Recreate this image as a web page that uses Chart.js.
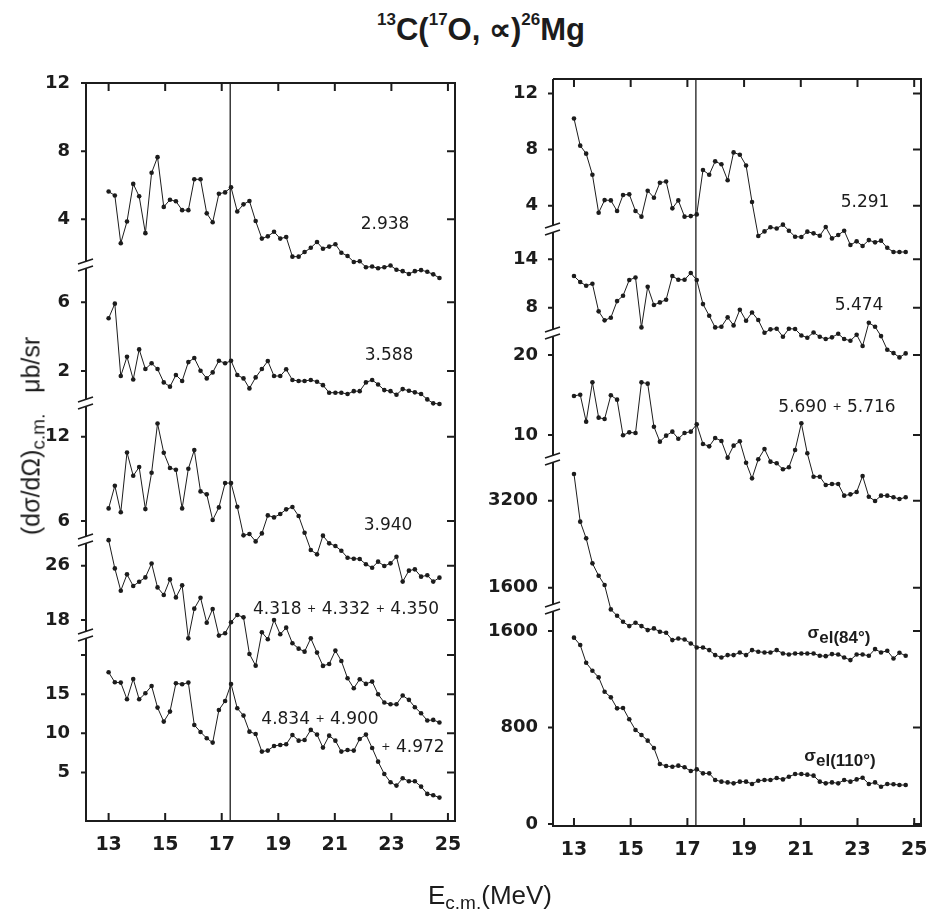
<!DOCTYPE html>
<html>
<head>
<meta charset="utf-8">
<script src="https://cdn.jsdelivr.net/npm/chart.js@4.4.1/dist/chart.umd.min.js"></script>
<style>
  body { margin:0; background:#fff; width:933px; height:923px; position:relative; overflow:hidden; color:#1c1c1c; }
  canvas { position:absolute; top:0; }
  .t { position:absolute; white-space:nowrap; line-height:1; }
  .lbl { position:absolute; transform:translate(-50%,-50%); white-space:nowrap; font:17px "DejaVu Sans", sans-serif; line-height:1; color:#1c1c1c; }
  .lbl .pl { font-size:11px; vertical-align:2px; }
  .sig { font:bold 17px "Liberation Sans", sans-serif; }
  .sig .s { font-size:17px; vertical-align:5px; }
  #title sup { font-size:17px; vertical-align:15px; line-height:0; }
</style>
</head>
<body>
<div id="title" class="t" style="left:481px; top:11px; transform:translateX(-50%); font:bold 31px 'Liberation Sans', sans-serif;"><sup>13</sup>C(<sup>17</sup>O, &#8733;)<sup>26</sup>Mg</div>
<canvas id="left" width="470" height="900" style="left:0"></canvas>
<canvas id="right" width="463" height="900" style="left:470px"></canvas>

<div class="t" style="left:490px; top:880px; transform:translateX(-50%); font:26px 'Liberation Sans', sans-serif;">E<sub style="font-size:19px; vertical-align:-5px;">c.m.</sub>(MeV)</div>
<div class="t" style="left:33px; top:436px; transform:translate(-50%,-50%) rotate(-90deg); font:25px 'Liberation Sans', sans-serif;">(d&sigma;/d&Omega;)<sub style="font-size:19px; vertical-align:-5px;">c.m.</sub>&nbsp;&nbsp;&nbsp;&mu;b/sr</div>

<div class="lbl" style="left:385px; top:223px;">2.938</div>
<div class="lbl" style="left:389px; top:354px;">3.588</div>
<div class="lbl" style="left:388px; top:524px;">3.940</div>
<div class="lbl" style="left:346px; top:608px;">4.318 <span class="pl">+</span> 4.332 <span class="pl">+</span> 4.350</div>
<div class="lbl" style="left:320px; top:718px;">4.834 <span class="pl">+</span> 4.900</div>
<div class="lbl" style="left:413px; top:746px;"><span class="pl">+</span> 4.972</div>
<div class="lbl" style="left:865px; top:201px;">5.291</div>
<div class="lbl" style="left:859px; top:304px;">5.474</div>
<div class="lbl" style="left:837px; top:406px;">5.690 <span class="pl">+</span> 5.716</div>
<div class="lbl sig" style="left:839px; top:635px;"><span class="s">&sigma;</span>el(84&deg;)</div>
<div class="lbl sig" style="left:840px; top:758px;"><span class="s">&sigma;</span>el(110&deg;)</div>

<script>
// beam energies (c.m., MeV)
const energies = [
  13.00, 13.22, 13.43, 13.65, 13.87, 14.08, 14.30, 14.52, 14.73, 14.95,
  15.17, 15.38, 15.60, 15.82, 16.03, 16.25, 16.47, 16.68, 16.90, 17.12,
  17.33, 17.55, 17.77, 17.98, 18.20, 18.42, 18.63, 18.85, 19.07, 19.28,
  19.50, 19.72, 19.93, 20.15, 20.37, 20.58, 20.80, 21.02, 21.23, 21.45,
  21.67, 21.88, 22.10, 22.32, 22.53, 22.75, 22.97, 23.18, 23.40, 23.62,
  23.83, 24.05, 24.27, 24.48, 24.70
];
const markerEnergy = 17.3;
const xTicks = [13, 15, 17, 19, 21, 23, 25];

// left panel, cross sections in ub/sr
const s2938 = [
  5.63, 5.4, 2.6, 3.87, 6.08, 5.35, 3.19, 6.73, 7.65, 4.73,
  5.15, 5.06, 4.54, 4.54, 6.35, 6.35, 4.35, 3.83, 5.5, 5.58,
  5.88, 4.46, 4.88, 5.08, 3.9, 2.87, 3.0, 3.27, 2.87, 2.96,
  1.81, 1.81, 2.08, 2.33, 2.67, 2.27, 2.4, 2.54, 2.04, 1.85,
  1.5, 1.54, 1.19, 1.23, 1.13, 1.19, 1.29, 1.04, 0.96, 0.79,
  0.96, 1.02, 0.92, 0.77, 0.56
];
const s3588 = [
  5.07, 5.92, 1.71, 2.83, 1.51, 3.26, 2.12, 2.45, 2.12, 1.34,
  1.09, 1.77, 1.42, 2.52, 2.76, 2.02, 1.57, 1.92, 2.6, 2.45,
  2.6, 1.77, 1.57, 0.99, 1.63, 2.12, 2.58, 1.71, 1.71, 2.1,
  1.48, 1.42, 1.42, 1.48, 1.38, 1.18, 0.74, 0.74, 0.74, 0.66,
  0.83, 0.83, 1.34, 1.48, 1.22, 0.89, 0.83, 0.62, 0.95, 0.85,
  0.76, 0.66, 0.35, 0.12, 0.08
];
const s3940 = [
  6.9, 8.51, 6.62, 10.88, 9.22, 9.84, 6.85, 9.44, 12.94, 10.86,
  9.77, 9.65, 6.9, 9.72, 11.05, 8.11, 7.9, 6.07, 6.97, 8.7,
  8.7, 7.02, 4.98, 5.08, 4.55, 5.12, 6.4, 6.26, 6.5, 6.83,
  7.0, 6.36, 5.17, 3.94, 3.63, 4.96, 4.41, 4.22, 3.89, 3.39,
  3.32, 3.3, 2.92, 2.68, 3.11, 2.8, 2.99, 3.46, 1.69, 2.47,
  2.56, 2.04, 2.14, 1.69, 1.97
];
const s4318 = [
  29.76, 25.6, 22.31, 24.72, 23.0, 23.64, 24.27, 26.33, 22.8, 21.68,
  23.98, 21.33, 23.1, 15.3, 19.67, 21.28, 17.6, 19.62, 15.7, 16.04,
  17.66, 18.74, 18.39, 13.0, 11.28, 16.19, 15.16, 18.0, 15.89, 16.87,
  14.57, 13.78, 13.34, 15.3, 13.2, 11.24, 11.53, 13.49, 11.97, 9.42,
  7.95, 9.27, 8.59, 8.93, 7.07, 5.84, 5.6, 5.6, 6.87, 6.24,
  5.16, 4.27, 3.2, 3.29, 2.9
];
const s4834 = [
  17.79, 16.51, 16.47, 14.34, 16.94, 14.34, 15.11, 16.04, 13.28, 11.49,
  12.77, 16.38, 16.26, 16.47, 11.06, 10.17, 9.36, 8.81, 12.98, 14.13,
  16.3, 13.19, 12.26, 10.21, 9.91, 7.66, 7.79, 8.38, 8.51, 8.6,
  9.79, 9.06, 9.15, 10.43, 9.83, 8.17, 9.7, 9.06, 7.66, 7.87,
  7.79, 9.28, 9.83, 8.13, 6.38, 4.81, 3.74, 3.32, 4.26, 3.87,
  3.87, 3.19, 2.26, 2.09, 1.79
];

// right panel
const s5291 = [
  10.22, 8.28, 7.71, 6.21, 3.5, 4.4, 4.38, 3.62, 4.76, 4.81,
  3.62, 3.22, 5.07, 4.57, 5.64, 5.73, 3.81, 4.38, 3.22, 3.26,
  3.38, 6.54, 6.21, 7.16, 6.95, 5.81, 7.8, 7.63, 6.87, 4.26,
  1.84, 2.17, 2.46, 2.38, 2.65, 2.22, 1.79, 1.77, 2.15, 2.03,
  1.86, 2.48, 1.67, 1.91, 2.22, 1.2, 1.46, 1.13, 1.55, 1.39,
  1.51, 1.0, 0.7, 0.7, 0.7
];
const s5474 = [
  11.91, 11.17, 10.72, 10.96, 7.55, 6.44, 6.77, 8.82, 9.48, 11.42,
  11.74, 5.57, 10.59, 8.33, 8.66, 8.99, 11.91, 11.46, 11.46, 12.28,
  11.42, 8.45, 7.01, 5.57, 5.65, 6.81, 5.82, 7.75, 6.4, 7.42,
  6.48, 4.91, 5.33, 5.41, 4.42, 5.41, 5.37, 4.58, 4.3, 4.95,
  4.42, 4.13, 4.34, 4.79, 4.13, 3.93, 4.67, 3.27, 6.15, 5.65,
  4.5, 2.81, 2.4, 1.87, 2.36
];
const s5690 = [
  14.88, 15.04, 11.67, 16.58, 12.17, 12.0, 14.96, 14.42, 9.96, 10.33,
  10.25, 16.58, 16.42, 11.04, 9.17, 9.92, 10.42, 9.54, 10.25, 10.42,
  11.33, 8.88, 8.58, 9.63, 9.25, 7.17, 8.67, 9.21, 6.54, 4.58,
  6.96, 8.25, 6.67, 6.46, 5.71, 5.96, 8.13, 11.46, 7.71, 4.79,
  4.79, 3.75, 3.88, 3.88, 2.42, 2.58, 2.88, 4.88, 2.29, 1.75,
  2.42, 2.42, 2.21, 2.0, 2.21
];
const sEl84 = [
  3692, 2815, 2508, 2048, 1821, 1649, 1201, 1085, 974, 894,
  956, 894, 821, 852, 790, 772, 637, 667, 649, 575,
  502, 502, 453, 361, 318, 361, 361, 410, 361, 453,
  422, 410, 410, 453, 391, 373, 391, 391, 391, 391,
  348, 342, 379, 373, 318, 269, 373, 373, 348, 471,
  410, 440, 299, 404, 348
];
const sEl110 = [
  1545, 1484, 1337, 1271, 1216, 1097, 1050, 959, 962, 868,
  779, 738, 691, 630, 497, 481, 475, 484, 470, 439,
  453, 420, 420, 365, 351, 345, 337, 351, 351, 332,
  359, 365, 365, 381, 370, 392, 414, 414, 409, 401,
  351, 337, 345, 337, 365, 351, 370, 384, 332, 345,
  309, 332, 329, 323, 323
];

// tick labels of each broken-axis segment
const ticksL1 = [4, 8, 12];
const ticksL2 = [2, 6];
const ticksL3 = [6, 12];
const ticksL4 = [18, 26];
const ticksL5 = [5, 10, 15, 20];
const ticksR1 = [4, 8, 12];
const ticksR2 = [8, 14];
const ticksR3 = [10, 20];
const ticksR4 = [1600, 3200];
const ticksR5 = [0, 800, 1600];

const ink = '#1c1c1c';
const tickFont = { family: 'DejaVu Sans', size: 18, weight: 'bold' };

const framePlugin = {
  id: 'frame',
  beforeDatasetsDraw(chart) {
    const { ctx, chartArea: a, scales } = chart;
    const mx = scales.x.getPixelForValue(markerEnergy);
    ctx.save();
    ctx.strokeStyle = ink;
    ctx.lineWidth = 1.3;
    ctx.beginPath(); ctx.moveTo(mx, a.top); ctx.lineTo(mx, a.bottom); ctx.stroke();
    ctx.restore();
  },
  afterDatasetsDraw(chart, args, opts) {
    const { ctx, chartArea: a, scales } = chart;
    const ys = opts.axes.map(id => scales[id]);
    const gap = 7;
    ctx.save();
    ctx.strokeStyle = ink;
    ctx.lineWidth = 2;
    ctx.beginPath();
    ctx.moveTo(a.left, a.top); ctx.lineTo(a.right, a.top);
    ctx.lineTo(a.right, a.bottom); ctx.lineTo(a.left - 1, a.bottom);
    ctx.stroke();
    ys.forEach((s, i) => {
      const t = i === 0 ? s.top : s.top + gap / 2;
      const b = i === ys.length - 1 ? s.bottom : s.bottom - gap / 2;
      ctx.lineWidth = 2;
      ctx.beginPath(); ctx.moveTo(a.left, t); ctx.lineTo(a.left, b); ctx.stroke();
      s.ticks.forEach(tk => {
        const py = s.getPixelForValue(tk.value);
        ctx.beginPath();
        ctx.moveTo(a.left - 5, py); ctx.lineTo(a.left, py);
        ctx.moveTo(a.right - 8, py); ctx.lineTo(a.right, py);
        ctx.stroke();
      });
      if (i > 0) {
        ctx.lineWidth = 1.6;
        for (const d of [-gap / 2, gap / 2]) {
          ctx.beginPath();
          ctx.moveTo(a.left - 8, s.top + d + 2.5);
          ctx.lineTo(a.left + 7, s.top + d - 2.5);
          ctx.stroke();
        }
      }
    });
    ctx.lineWidth = 2;
    scales.x.ticks.forEach(tk => {
      const px = scales.x.getPixelForValue(tk.value);
      ctx.beginPath();
      ctx.moveTo(px, a.top); ctx.lineTo(px, a.top + 8);
      ctx.moveTo(px, a.bottom); ctx.lineTo(px, a.bottom - 8);
      ctx.stroke();
    });
    ctx.restore();
  }
};

function panelChart(id, traces, xRange, yWidth, padding, labelPad) {
  const scales = {
    x: {
      type: 'linear', position: 'bottom', min: xRange[0], max: xRange[1],
      afterBuildTicks: s => { s.ticks = xTicks.map(v => ({ value: v })); },
      afterFit: s => { s.height = 40; },
      grid: { display: false }, border: { display: false },
      ticks: { autoSkip: false, maxRotation: 0, padding: 5, color: ink, font: { family: 'DejaVu Sans', size: 19, weight: 'bold' }, callback: v => String(v) }
    }
  };
  traces.forEach((t, i) => {
    scales[t.axis] = {
      type: 'linear', position: 'left', stack: 'y', stackWeight: t.span, weight: traces.length - i,
      min: t.min, max: t.max,
      afterBuildTicks: s => { s.ticks = t.ticks.map(v => ({ value: v })); },
      afterFit: s => { s.width = yWidth; },
      grid: { display: false }, border: { display: false },
      ticks: { autoSkip: false, padding: labelPad, color: ink, font: tickFont,
        callback: v => (t.blank || []).includes(v) ? '' : String(v) }
    };
  });
  return new Chart(document.getElementById(id), {
    type: 'line',
    data: {
      datasets: traces.map(t => ({
        data: energies.map((e, i) => ({ x: e, y: t.values[i] })),
        yAxisID: t.axis, xAxisID: 'x',
        borderColor: ink, borderWidth: 1, tension: 0,
        pointRadius: 2.3, pointBackgroundColor: ink, pointBorderWidth: 0, pointHoverRadius: 0,
        clip: false
      }))
    },
    options: {
      responsive: false, animation: false, events: [],
      layout: { padding: padding },
      scales: scales,
      plugins: { legend: { display: false }, tooltip: { enabled: false }, frame: { axes: traces.map(t => t.axis) } }
    },
    plugins: [framePlugin]
  });
}

panelChart('left', [
  { axis: 'L1', values: s2938, span: 182, min: 1.32, max: 12, ticks: ticksL1 },
  { axis: 'L2', values: s3588, span: 138, min: 0.14, max: 8.17, ticks: ticksL2 },
  { axis: 'L3', values: s3940, span: 137, min: 4.65, max: 14.4, ticks: ticksL3 },
  { axis: 'L4', values: s4318, span: 95, min: 15.79, max: 29.78, ticks: ticksL4 },
  { axis: 'L5', values: s4834, span: 186, min: -1.2, max: 22.55, ticks: ticksL5, blank: [20] }
], [12.2, 25.25], 86, { left: 0, top: 83, right: 15, bottom: 39 }, 8);

panelChart('right', [
  { axis: 'R1', values: s5291, span: 150, min: 2.34, max: 13.03, ticks: ticksR1 },
  { axis: 'R2', values: s5474, span: 104, min: 4.88, max: 17.72, ticks: ticksR2 },
  { axis: 'R3', values: s5690, span: 126, min: 7.0, max: 22.75, ticks: ticksR3 },
  { axis: 'R4', values: sEl84, span: 149, min: 1227, max: 3967, ticks: ticksR4 },
  { axis: 'R5', values: sEl110, span: 218, min: -16.6, max: 1791, ticks: ticksR5 }
], [12.26, 25.24], 83, { left: 0, top: 79, right: 12, bottom: 34 }, 7);
</script>
</body>
</html>
